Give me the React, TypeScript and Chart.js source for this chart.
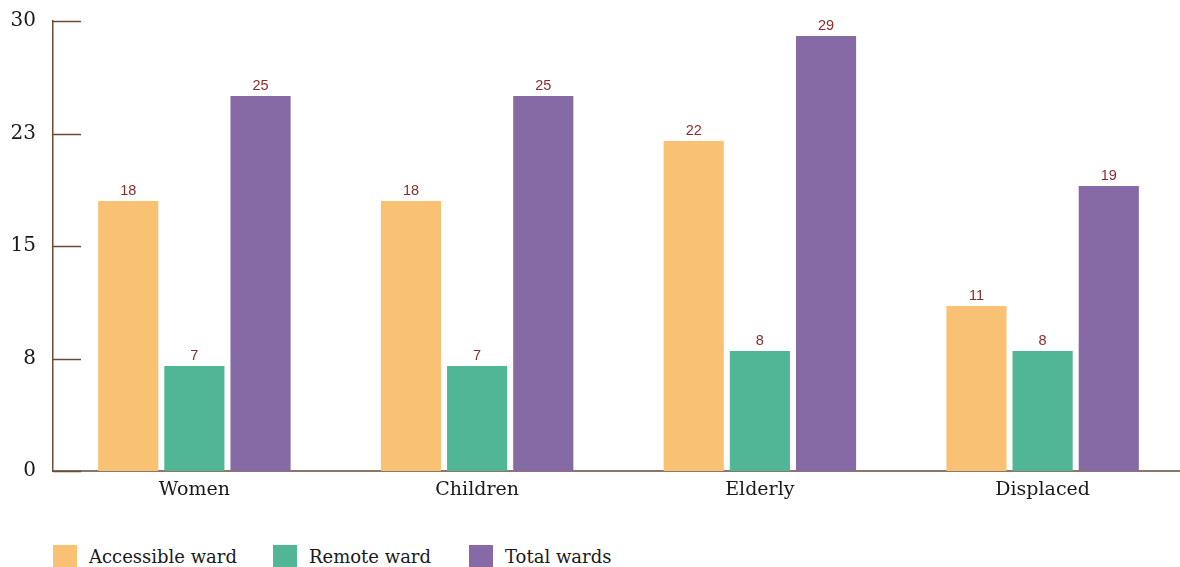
import React, { useEffect, useRef } from "react";
import { Chart, registerables } from "chart.js";

Chart.register(...registerables);

const categories = ["Women", "Children", "Elderly", "Displaced"];
const accessibleWard = [18, 18, 22, 11];
const remoteWard = [7, 7, 8, 8];
const totalWards = [25, 25, 29, 19];
const seriesNames = ["Accessible ward", "Remote ward", "Total wards"];
const seriesColors = ["#F9C174", "#51B695", "#866AA6"];

const serif = "'DejaVu Serif', Georgia, serif";
const axisBrown = "#6B4A3A";

// Short tick marks that point into the plot area from the y axis
const innerTicks = {
  id: "innerTicks",
  afterDatasetsDraw(chart: any) {
    const y = chart.scales.y;
    const { ctx, chartArea } = chart;
    ctx.save();
    ctx.strokeStyle = axisBrown;
    ctx.lineWidth = 1.5;
    y.ticks.forEach((t: any) => {
      const py = Math.round(y.getPixelForValue(t.value)) + 0.5;
      ctx.beginPath();
      ctx.moveTo(chartArea.left, py);
      ctx.lineTo(chartArea.left + 28, py);
      ctx.stroke();
    });
    ctx.restore();
  },
};

// Value labels above each bar
const valueLabels = {
  id: "valueLabels",
  afterDatasetsDraw(chart: any) {
    const { ctx } = chart;
    ctx.save();
    ctx.fillStyle = "#8B2C2C";
    ctx.font = "14.5px 'Liberation Sans', Arial, sans-serif";
    ctx.textAlign = "center";
    ctx.textBaseline = "bottom";
    chart.data.datasets.forEach((ds: any, i: number) => {
      const meta = chart.getDatasetMeta(i);
      meta.data.forEach((el: any, j: number) => {
        ctx.fillText(String(Math.round(ds.data[j])), el.x, el.y - 3);
      });
    });
    ctx.restore();
  },
};

export default function App() {
  const canvasRef = useRef<HTMLCanvasElement | null>(null);

  useEffect(() => {
    document.body.style.margin = "0";
    document.body.style.overflow = "hidden";
    const chart = new Chart(canvasRef.current!, {
      type: "bar",
      data: {
        labels: categories,
        datasets: [accessibleWard, remoteWard, totalWards].map((d, i) => ({
          label: seriesNames[i],
          data: d,
          backgroundColor: seriesColors[i],
          borderWidth: 0,
          categoryPercentage: 0.702,
          barPercentage: 0.909,
        })),
      },
      options: {
        animation: false,
        responsive: true,
        maintainAspectRatio: false,
        layout: { padding: { top: 21, right: 0, left: 0, bottom: 0 } },
        plugins: {
          legend: { display: false },
          tooltip: { enabled: false },
        },
        scales: {
          x: {
            grid: { display: false, drawTicks: false },
            border: { display: true, color: "#8F7566", width: 2 },
            ticks: {
              color: "#1a1a1a",
              font: { family: serif, size: 19 },
              padding: 8,
            },
            afterFit(scale: any) {
              scale.height = 59;
            },
          },
          y: {
            min: 0,
            max: 30,
            grid: { display: false, drawTicks: false },
            border: { display: true, color: axisBrown, width: 1.5 },
            ticks: {
              stepSize: 7.5,
              color: "#1a1a1a",
              font: { family: serif, size: 20 },
              padding: 17,
              callback: (v: any) => String(Math.round(Number(v))),
            },
            afterFit(scale: any) {
              scale.width = 53;
              scale.paddingTop = 0;
              scale.paddingBottom = 0;
            },
          },
        },
      },
      plugins: [innerTicks, valueLabels],
    });
    return () => chart.destroy();
  }, []);

  const itemWidths = [220, 196, 180];

  return (
    <div style={{ width: 1184 }}>
      <div style={{ position: "relative", width: 1184, height: 530 }}>
        <canvas ref={canvasRef} />
      </div>
      <div
        style={{
          display: "flex",
          marginLeft: 53,
          marginTop: 15,
          fontFamily: serif,
          fontSize: 18,
          color: "#1a1a1a",
        }}
      >
        {seriesNames.map((name, i) => (
          <div
            key={name}
            style={{ display: "flex", alignItems: "center", width: itemWidths[i] }}
          >
            <span
              style={{
                display: "inline-block",
                width: 24,
                height: 23,
                background: seriesColors[i],
                marginRight: 12,
              }}
            />
            <span>{name}</span>
          </div>
        ))}
      </div>
    </div>
  );
}
